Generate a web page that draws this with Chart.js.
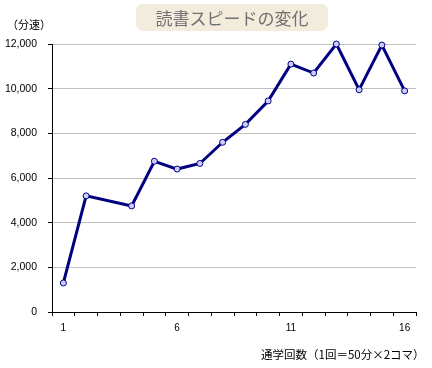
<!DOCTYPE html>
<html><head><meta charset="utf-8">
<script src="https://cdn.jsdelivr.net/npm/chart.js@4/dist/chart.umd.min.js"></script>
<style>
html,body{margin:0;padding:0;background:#fff;}
#wrap{position:relative;width:432px;height:368px;overflow:hidden;}
#c{position:absolute;left:0;top:0;}
.t{position:absolute;white-space:nowrap;font-family:"Noto Sans CJK JP",sans-serif;color:#000;}
#title{left:136px;top:4px;width:192px;height:27px;background:#f3ecdd;border-radius:7px;color:#707070;font-size:17px;line-height:27px;text-align:center;}
#unit{left:7px;top:16px;font-size:11px;line-height:16px;}
#xt{left:261px;top:346px;font-size:11.5px;line-height:16px;}
</style></head>
<body><div id="wrap">
<canvas id="c" width="432" height="368"></canvas>
<div class="t" id="title">読書スピードの変化</div>
<div class="t" id="unit">（分速）</div>
<div class="t" id="xt">通学回数（1回＝50分×2コマ）</div>
</div>
<script>
const titleText = "読書スピードの変化";
const categories = ["1","2","3","4","5","6","7","8","9","10","11","12","13","14","15","16"];
const speed = [1300, 5200, null, 4750, 6750, 6400, 6650, 7600, 8400, 9450, 11100, 10700, 12000, 9950, 11950, 9900];
const xTickLabels = ["1","6","11","16"];
const yTicks = [0, 2000, 4000, 6000, 8000, 10000, 12000];

const ctx = document.getElementById('c');
new Chart(ctx, {
  type: 'line',
  data: {
    labels: categories,
    datasets: [{
      data: speed,
      borderColor: '#000080',
      borderWidth: 3,
      pointRadius: 3,
      pointBackgroundColor: '#ccccff',
      pointBorderColor: '#000080',
      pointBorderWidth: 1,
      spanGaps: true,
      tension: 0,
      fill: false,
      clip: false
    }]
  },
  options: {
    responsive: false,
    animation: false,
    devicePixelRatio: 1,
    layout: { padding: { left: 0, right: 16, top: 44, bottom: 0 } },
    plugins: { legend: { display: false }, title: { display: false }, tooltip: { enabled: false } },
    scales: {
      x: {
        offset: true,
        grid: { offset: true, drawOnChartArea: false, tickLength: 4, tickColor: '#000' },
        border: { color: '#000', width: 1 },
        ticks: {
          autoSkip: false, maxRotation: 0, padding: 6,
          color: '#000', font: { family: 'Liberation Sans', size: 10 },
          callback: function(v, i) { const l = categories[i]; return xTickLabels.includes(l) ? l : ''; }
        },
        afterFit: function(s) { s.height = 56; }
      },
      y: {
        min: 0, max: 12000,
        afterBuildTicks: function(s) { s.ticks = yTicks.map(v => ({ value: v })); },
        grid: { color: '#c0c0c0', tickColor: '#000', tickLength: 4 },
        border: { color: '#000', width: 1 },
        ticks: {
          padding: 11, color: '#000', font: { family: 'Liberation Sans', size: 10.5 },
          callback: function(v) { return v.toLocaleString('en-US'); }
        },
        afterFit: function(s) { s.width = 52; }
      }
    }
  }
});
</script>
</body></html>
